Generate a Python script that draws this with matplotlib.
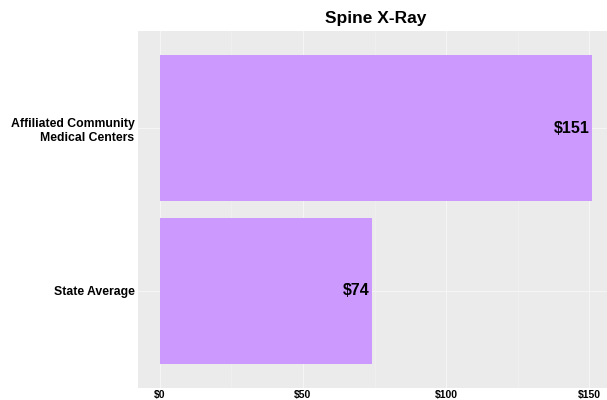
import matplotlib

matplotlib.use("Agg")
import matplotlib.pyplot as plt

categories = ["State Average", "Affiliated Community\nMedical Centers"]
values = [74, 151]
x_ticks = [0, 50, 100, 150]
x_tick_labels = ["$0", "$50", "$100", "$150"]
title = "Spine X-Ray"

plt.rcParams["font.family"] = ["Liberation Sans", "DejaVu Sans"]

fig = plt.figure(figsize=(6.07, 4.0), dpi=100)
ax = fig.add_axes([138 / 607, 12 / 400, (614 - 138) / 607, (388 - 31) / 400])
ax.set_facecolor("#EBEBEB")

pos = list(range(1, len(categories) + 1))
ax.barh(pos, values, height=0.9, color="#CC99FF", zorder=2)
for p, v in zip(pos, values):
    ax.text(v - 0.8, p, f"${v}", ha="right", va="center", fontsize=11.5,
            fontweight="bold", color="black", zorder=3)

ax.set_xlim(-7.55, 158.55)
ax.set_ylim(0.4, 2.6)
ax.set_xticks(x_ticks)
ax.set_xticklabels(x_tick_labels, fontsize=7.5, fontweight="bold")
ax.set_xticks([25, 75, 125], minor=True)
ax.set_yticks(pos)
ax.set_yticklabels(categories, fontsize=8.8, fontweight="bold")
ax.tick_params(axis="x", which="both", length=0, pad=1.5, colors="black")
ax.tick_params(axis="y", which="both", length=0, pad=2.5, colors="black")
ax.grid(True, which="major", color="#F5F5F5", linewidth=0.8, zorder=1)
ax.grid(True, which="minor", axis="x", color="#F2F2F2", linewidth=0.5, zorder=1)
for s in ax.spines.values():
    s.set_visible(False)

fig.text((138 + 614) / 2 / 607, 1 - 19 / 400, title, ha="center", va="center",
         fontsize=12.5, fontweight="bold")

fig.savefig("out.png", dpi=100)
